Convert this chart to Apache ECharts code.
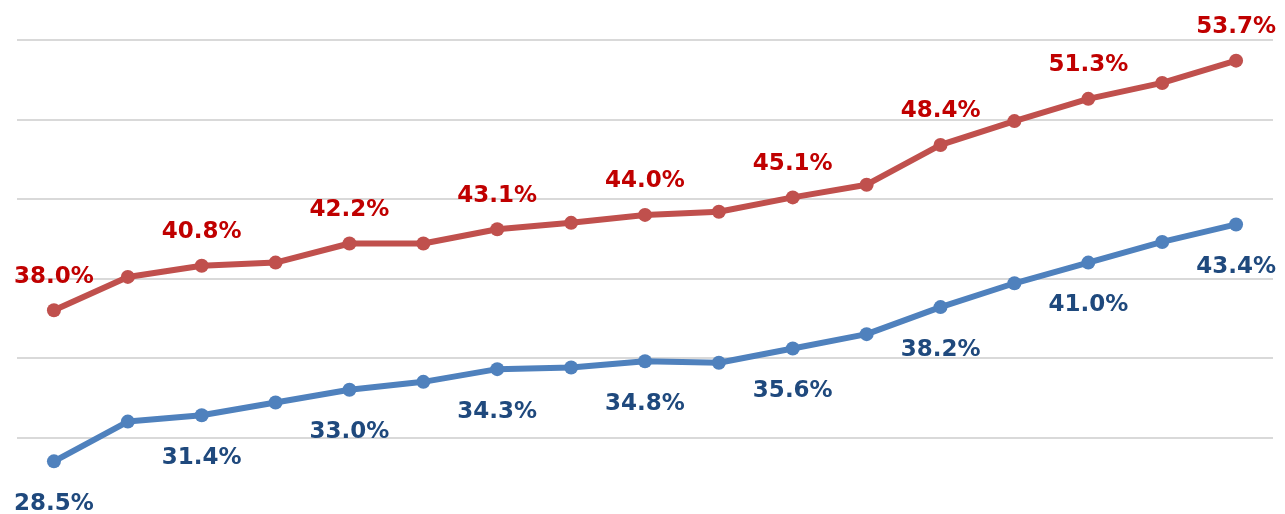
<!DOCTYPE html>
<html>
<head>
<meta charset="utf-8">
<script src="https://cdn.jsdelivr.net/npm/echarts@6/dist/echarts.min.js"></script>
<style>
  html, body { margin: 0; padding: 0; background: #ffffff; overflow: hidden; }
  #chart { width: 1285px; height: 517px; }
</style>
</head>
<body>
<div id="chart"></div>
<script>
// Seventeen periods, two share series (percent)
const categories = ['1', '2', '3', '4', '5', '6', '7', '8', '9', '10', '11', '12', '13', '14', '15', '16', '17'];
const upperSeries = [38.0, 40.1, 40.8, 41.0, 42.2, 42.2, 43.1, 43.5, 44.0, 44.2, 45.1, 45.9, 48.4, 49.9, 51.3, 52.3, 53.7];
const lowerSeries = [28.5, 31.0, 31.4, 32.2, 33.0, 33.5, 34.3, 34.4, 34.8, 34.7, 35.6, 36.5, 38.2, 39.7, 41.0, 42.3, 43.4];
const yTicks = { min: 25, max: 55, step: 5 };

const chart = echarts.init(document.getElementById('chart'), null, { renderer: 'canvas' });

// every other point carries its value label
const everyOther = p => (p.dataIndex % 2 === 0 ? p.value.toFixed(1) + '%' : '');

const labelFont = {
  fontFamily: 'DejaVu Sans',
  fontWeight: 'bold',
  fontSize: 23
};

chart.setOption({
  animation: false,
  backgroundColor: '#ffffff',
  grid: { left: 17, right: 12, top: 40, bottom: 0, containLabel: false },
  xAxis: {
    type: 'category',
    data: categories,
    boundaryGap: true,
    axisLine: { show: false },
    axisTick: { show: false },
    axisLabel: { show: false },
    splitLine: { show: false }
  },
  yAxis: {
    type: 'value',
    min: yTicks.min,
    max: yTicks.max,
    interval: yTicks.step,
    axisLine: { show: false },
    axisTick: { show: false },
    axisLabel: { show: false },
    splitLine: { show: true, lineStyle: { color: '#d9d9d9', width: 2 } }
  },
  series: [
    {
      type: 'line',
      data: upperSeries,
      symbol: 'circle',
      symbolSize: 14,
      lineStyle: { color: '#c0504d', width: 6 },
      itemStyle: { color: '#c0504d' },
      label: Object.assign({
        show: true,
        position: 'top',
        distance: 15,
        color: '#c00000',
        formatter: everyOther
      }, labelFont),
      z: 3
    },
    {
      type: 'line',
      data: lowerSeries,
      symbol: 'circle',
      symbolSize: 14,
      lineStyle: { color: '#4f81bd', width: 6 },
      itemStyle: { color: '#4f81bd' },
      label: Object.assign({
        show: true,
        position: 'bottom',
        distance: 24,
        color: '#1f497d',
        formatter: everyOther
      }, labelFont),
      z: 2
    }
  ]
});
</script>
</body>
</html>
